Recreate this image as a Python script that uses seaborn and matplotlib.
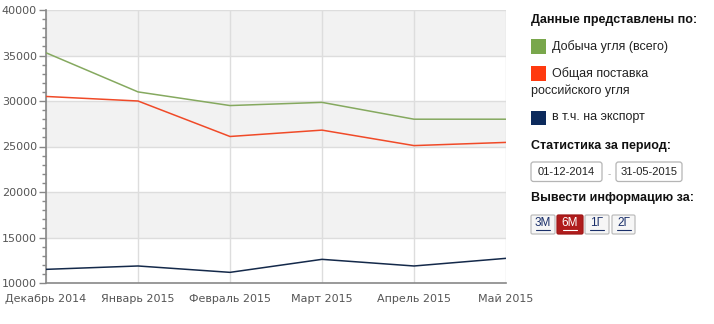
import matplotlib
matplotlib.use("Agg")
import matplotlib.pyplot as plt
from matplotlib.patches import FancyBboxPatch, Rectangle
from matplotlib.lines import Line2D
from matplotlib.ticker import MultipleLocator
import seaborn as sns
import pandas as pd

# Monthly coal statistics, thousand tonnes
months = ["Декабрь 2014", "Январь 2015", "Февраль 2015", "Март 2015", "Апрель 2015", "Май 2015"]
mining_total = [35300, 31000, 29500, 29850, 28000, 28000]
domestic_supply = [30500, 30000, 26100, 26800, 25100, 25450]
export_share = [11500, 11870, 11170, 12600, 11870, 12710]

series_names = ["Добыча угля (всего)", "Общая поставка\nроссийского угля", "в т.ч. на экспорт"]
line_colors = ["#85a95f", "#f04a28", "#14294a"]
legend_colors = ["#79a74c", "#ff3a0f", "#0c2a5c"]

date_from = "01-12-2014"
date_to = "31-05-2015"
period_buttons = ["3М", "6М", "1Г", "2Г"]
active_button = "6М"

rows = []
for name, vals in zip(series_names, [mining_total, domestic_supply, export_share]):
    for i, v in enumerate(vals):
        rows.append({"pos": i, "value": v, "series": name})
df = pd.DataFrame(rows)

sns.set_theme(style="white")
plt.rcParams["font.family"] = ["DejaVu Sans"]

W, H = 714, 324
fig = plt.figure(figsize=(W / 100, H / 100), dpi=100)
ax = fig.add_axes([46 / W, 1 - 283 / H, 460 / W, 273 / H])

# alternating background bands
for lo in (15000, 25000, 35000):
    ax.axhspan(lo, lo + 5000, color="#f2f2f2", zorder=0, lw=0)
for y in range(15000, 40001, 5000):
    ax.axhline(y, color="#dddddd", lw=1, zorder=0.5)
for x in range(len(months)):
    ax.axvline(x, color="#dddddd", lw=1, zorder=0.5)

sns.lineplot(data=df, x="pos", y="value", hue="series", palette=dict(zip(series_names, line_colors)),
             lw=1.1, legend=False, ax=ax, zorder=3)

ax.set_xlim(0, len(months) - 1)
ax.set_ylim(10000, 40000)
ax.set_xticks(range(len(months)))
ax.set_xticklabels(months)
ax.yaxis.set_major_locator(MultipleLocator(5000))
ax.yaxis.set_minor_locator(MultipleLocator(1000))
ax.set_xlabel("")
ax.set_ylabel("")
ax.tick_params(axis="y", which="major", length=5, width=1, color="#888888", left=True,
               labelsize=8, labelcolor="#555555", pad=1.5)
ax.tick_params(axis="y", which="minor", length=3, width=1, color="#888888", left=True)
ax.tick_params(axis="x", length=0, labelsize=8, labelcolor="#555555", pad=8)
for s in ("top", "right"):
    ax.spines[s].set_visible(False)
for s in ("left", "bottom"):
    ax.spines[s].set_color("#888888")
    ax.spines[s].set_linewidth(1.2)

# side panel
px = lambda x: x / W
py = lambda y: 1 - y / H
pfont = ["Liberation Sans", "DejaVu Sans"]

fig.text(px(531), py(20), "Данные представлены по:", fontsize=9, fontweight="bold",
         family=pfont, va="center", ha="left", color="#111111")

sq_tops = [39, 66.5, 110.5]
label_y = [46.5, 74, 117.5]
for name, col, top, ly in zip(series_names, legend_colors, sq_tops, label_y):
    fig.patches.append(Rectangle((531 / 100, (H - top - 14.5) / 100), 14.5 / 100, 14.5 / 100,
                                 transform=fig.dpi_scale_trans, facecolor=col, edgecolor="none"))
    first, *rest = name.split("\n")
    fig.text(px(552), py(ly), first, fontsize=9, family=pfont, va="center", ha="left", color="#222222")
    if rest:
        fig.text(px(531), py(ly + 17), rest[0], fontsize=9, family=pfont, va="center", ha="left",
                 color="#222222")

fig.text(px(531), py(146), "Статистика за период:", fontsize=9, fontweight="bold",
         family=pfont, va="center", ha="left", color="#111111")


def box(x0, y0, x1, y1, face, edge, r=2.5):
    fig.patches.append(FancyBboxPatch((x0 / 100, (H - y1) / 100), (x1 - x0) / 100, (y1 - y0) / 100,
                                      boxstyle=f"round,pad=0,rounding_size={r / 100}",
                                      transform=fig.dpi_scale_trans, facecolor=face, edgecolor=edge,
                                      lw=0.9))


box(531, 162, 602, 181.5, "white", "#b5b5b5")
fig.text(px(566.5), py(172), date_from, fontsize=8, family=pfont, va="center", ha="center", color="#222222")
fig.text(px(609.5), py(174), "-", fontsize=7, family=pfont, va="center", ha="center", color="#aaaaaa")
box(616, 162, 682, 181.5, "white", "#b5b5b5")
fig.text(px(649), py(172), date_to, fontsize=8, family=pfont, va="center", ha="center", color="#222222")

fig.text(px(531), py(198), "Вывести информацию за:", fontsize=9, fontweight="bold",
         family=pfont, va="center", ha="left", color="#111111")

btn_x = [(531, 555), (557, 583), (585, 609), (612, 635)]
for label, (x0, x1) in zip(period_buttons, btn_x):
    active = label == active_button
    box(x0, 215, x1, 234, "#b01c1c" if active else "#f6f6f6", "#a01818" if active else "#bdbdbd", r=1.5)
    tcol = "white" if active else "#1a2f6a"
    cx = (x0 + x1) / 2
    fig.text(px(cx), py(223.5), label, fontsize=8.5, family=pfont, va="center", ha="center", color=tcol)
    fig.lines.append(Line2D([px(cx - 7), px(cx + 7)], [py(229.5), py(229.5)], transform=fig.transFigure,
                            color=tcol, lw=0.8))

fig.savefig("out.png", dpi=100)
